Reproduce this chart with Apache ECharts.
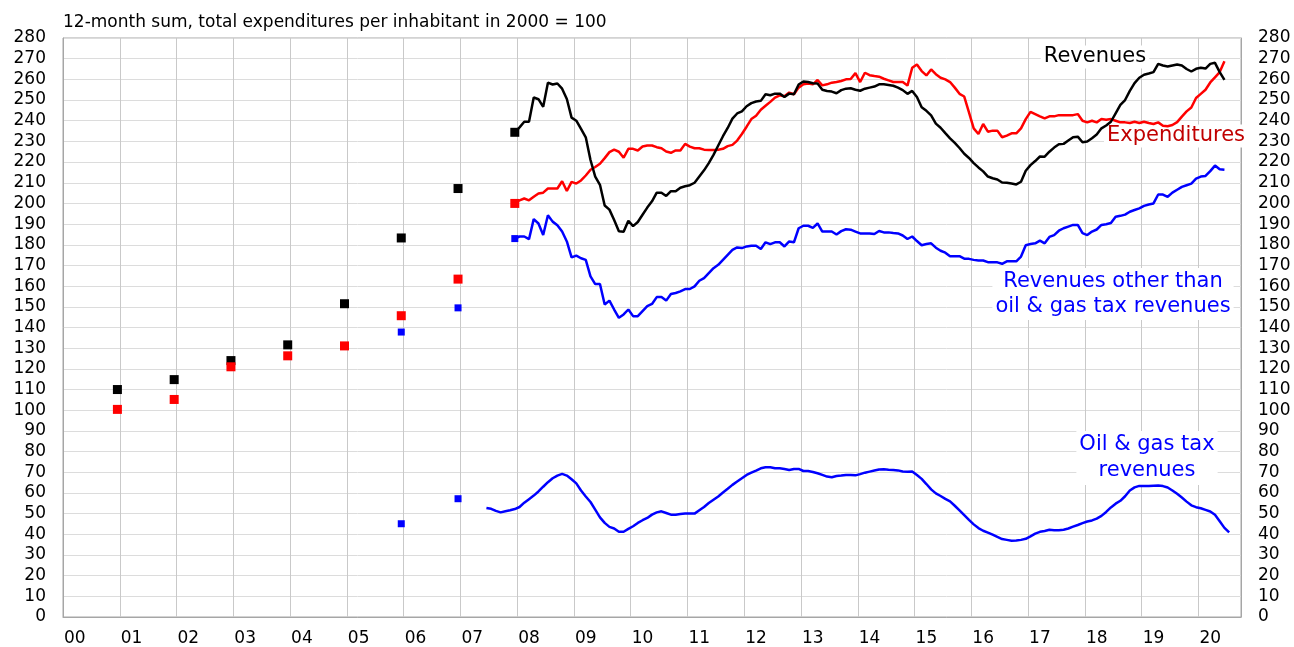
<!DOCTYPE html>
<html>
<head>
<meta charset="utf-8">
<script src="https://cdn.jsdelivr.net/npm/echarts@6/dist/echarts.min.js"></script>
<style>
  html, body { margin: 0; padding: 0; background: #fff; }
  #chart { width: 1294px; height: 647px; }
</style>
</head>
<body>
<div id="chart"></div>
<script>
const FONT = '"DejaVu Sans", "Liberation Sans", Arial, sans-serif';

// monthly categories, Jan 2000 .. Sep 2020
const firstYear = 2000;
const monthCount = 249;
const months = [];
for (let i = 0; i < monthCount; i++) {
  const y = firstYear + Math.floor(i / 12);
  const m = (i % 12) + 1;
  months.push(y + '-' + (m < 10 ? '0' + m : m));
}

// annual points (December of each year 2000..2007)
const annualMonths = ['2000-12', '2001-12', '2002-12', '2003-12', '2004-12', '2005-12', '2006-12', '2007-12'];
const revenuesAnnual = [110, 114.8, 124, 131.6, 151.5, 183.3, 207.2, 234.4];
const expendituresAnnual = [100.4, 105.2, 121, 126.3, 131.1, 145.7, 163.4, 200];
const otherAnnual = [null, null, null, null, null, 137.8, 149.5, 183];
const oilGasAnnual = [null, null, null, null, null, 45.1, 57.2, null];

// monthly series, first value is Dec 2007
const monthlyStart = '2007-12';
const revenues = [
  234.4,
  236.8, 239.5, 239.5, 251.2, 250.4, 246.7, 258.4, 257.5, 258, 255.5, 250.5, 241.5,
  240, 236, 232, 221, 213, 209, 199, 197, 192, 186.5, 186.3, 191.6,
  189, 191, 194.5, 198, 201, 205.2, 205.2, 203.6, 205.9, 205.9, 207.6, 208.3,
  208.8, 210, 213, 216, 219.5, 223.5, 228, 232.5, 236.5, 241, 243.5, 244.5,
  247, 248.5, 249.3, 249.6, 252.8, 252.3, 253.1, 253.1, 251.5, 253.1, 252.8, 257.5,
  259, 258.7, 258.1, 258, 255, 254.4, 254.1, 253.3, 254.8, 255.5, 255.7, 255,
  254.5, 255.5, 256, 256.5, 257.6, 257.6, 257.3, 256.9, 256, 254.8, 253, 254.4,
  251.5, 246.5, 244.8, 242.6, 238.6, 236.6, 234, 231.5, 229.3, 226.8, 224, 222,
  219.5, 217.4, 215.5, 213, 212.2, 211.6, 210.1, 210, 209.6, 209.2, 210.5, 215.8,
  218.5, 220.5, 222.7, 222.6, 225, 227, 228.6, 228.8, 230.4, 232, 232.3, 229.6,
  229.9, 231.5, 233.3, 236.3, 237.7, 239.5, 243.6, 247.7, 250, 254.4, 258.2, 260.8,
  262.2, 262.8, 263.5, 267.5, 266.7, 266.2, 266.7, 267.2, 266.7, 265, 263.8, 265.1,
  265.6, 265.2, 267.5, 268, 263.5, 259.7
];
const expenditures = [
  200,
  201.5, 202.4, 201.5, 203.2, 204.8, 205.2, 207.2, 207.2, 207.2, 210.7, 206, 210.4,
  209.6, 211.1, 213.5, 216.3, 217.6, 219.2, 221.9, 224.8, 226, 225, 222.1, 226.4,
  226.4, 225.6, 227.5, 228, 228, 227.2, 226.7, 225.1, 224.5, 225.6, 225.6, 228.8,
  227.5, 226.7, 226.7, 226, 225.8, 225.8, 226, 226.4, 227.7, 228.3, 230.4, 233.6,
  237.1, 240.8, 242.4, 245.3, 247.2, 249.1, 251.2, 252.3, 251.8, 253.6, 252.8, 256,
  257.6, 258, 257.6, 259.7, 257.1, 257.6, 258.4, 258.7, 259.2, 260, 260.2, 263,
  258.7, 263.2, 262, 261.6, 261.3, 260.3, 259.5, 258.7, 258.7, 258.7, 257, 265.6,
  267.2, 264, 261.9, 264.8, 262.5, 260.8, 260, 258.7, 256, 253, 251.7, 244,
  236.3, 233.6, 238.4, 234.7, 235.2, 235.2, 232, 232.8, 233.9, 233.9, 236.3, 240.8,
  244.3, 243.2, 242.1, 241.1, 242.1, 242.1, 242.7, 242.7, 242.7, 242.7, 243.2, 240,
  239.2, 240, 239.2, 240.8, 240.5, 240.8, 240, 239.2, 239.2, 238.9, 239.5, 238.9,
  239.5, 238.9, 238.4, 239.2, 237.6, 237.3, 237.9, 239.3, 242, 244.5, 246.4, 251,
  253, 255, 258.5, 261, 263.5, 268.8
];
const otherRevenues = [
  183,
  184, 184, 182.7, 192.4, 190.3, 184.7, 194.3, 191.2, 189.5, 186.4, 181.6, 173.9,
  174.8, 173.5, 172.7, 164.7, 161, 161, 151.1, 153, 148.7, 144.7, 146.3, 148.7,
  145.5, 145.5, 147.9, 150.3, 151.4, 154.7, 154.7, 153, 156.2, 156.7, 157.5, 158.6,
  158.6, 159.9, 162.6, 163.9, 166.3, 168.7, 170.3, 172.7, 175.1, 177.5, 178.7, 178.4,
  179.2, 179.5, 179.5, 178, 181.2, 180.3, 181.2, 181.2, 179.2, 181.6, 181.2, 188,
  189.2, 189.2, 188.2, 190.3, 186.4, 186.4, 186.4, 185, 186.6, 187.5, 187.3, 186.4,
  185.5, 185.5, 185.5, 185.2, 186.7, 186, 186, 185.7, 185.5, 184.5, 182.8, 184,
  181.8, 179.8, 180.4, 180.7, 178.6, 177.1, 176.2, 174.5, 174.5, 174.5, 173.3, 173.2,
  172.7, 172.4, 172.4, 171.6, 171.6, 171.5, 170.8, 172, 172, 172, 174.3, 179.8,
  180.4, 180.7, 182, 180.7, 183.8, 184.7, 186.8, 188, 188.8, 189.6, 189.6, 185.6,
  184.7, 186.4, 187.4, 189.6, 189.9, 190.5, 193.6, 194, 194.6, 196, 196.8, 197.6,
  198.8, 199.5, 200, 204.3, 204.3, 203.2, 205.2, 206.6, 208, 208.8, 209.6, 212,
  213, 213.3, 215.6, 218.3, 216.5, 216.3
];

// oil & gas tax revenues, first value is Jun 2007
const oilGasStart = '2007-06';
const oilGas = [
  52.7, 52.3, 51.3, 50.6, 51.1, 51.6, 52.2,
  53.2, 55.3, 57, 58.7, 60.7, 63, 65.2, 67.1, 68.4, 69.2, 68.4, 66.6,
  64.6, 61.2, 58.3, 55.6, 51.9, 48.2, 45.5, 43.6, 42.8, 41.2, 41.2, 42.6,
  43.9, 45.5, 46.8, 47.9, 49.5, 50.6, 51.1, 50.3, 49.5, 49.5, 49.8, 50,
  50, 50, 51.6, 53.2, 55.1, 56.7, 58.3, 60.2, 62, 63.9, 65.5, 67.1,
  68.7, 69.8, 70.8, 71.9, 72.4, 72.4, 71.9, 71.9, 71.6, 71.1, 71.6, 71.6,
  70.6, 70.6, 70.1, 69.5, 68.7, 67.9, 67.6, 68.2, 68.4, 68.7, 68.7, 68.5,
  69.1, 69.8, 70.3, 70.8, 71.3, 71.4, 71.2, 71.1, 70.9, 70.4, 70.3, 70.4,
  68.7, 66.8, 64.3, 61.7, 59.8, 58.5, 57.1, 55.9, 53.8, 51.6, 49.3, 47,
  44.8, 43, 41.7, 40.8, 39.8, 38.7, 37.7, 37.3, 36.9, 37, 37.3, 37.8,
  39, 40.3, 41.2, 41.6, 42.2, 42, 42, 42.2, 42.8, 43.7, 44.5, 45.4,
  46.2, 46.7, 47.6, 48.9, 50.8, 53, 54.8, 56.2, 58.4, 61.2, 62.7, 63.4,
  63.4, 63.4, 63.5, 63.6, 63.3, 62.6, 61.2, 59.6, 57.8, 55.8, 54, 53.1,
  52.6, 51.8, 51, 49.4, 46.3, 43.1, 40.9
];

// place a run of monthly values on the month categories
const onMonths = (start, values) => {
  const out = new Array(monthCount).fill(null);
  const s = months.indexOf(start);
  values.forEach((v, i) => { out[s + i] = v; });
  return out;
};
const annualPoints = values => annualMonths
  .map((m, i) => [m, values[i]])
  .filter(p => p[1] !== null);

const lineSeries = (name, color, start, values) => ({
  name,
  type: 'line',
  data: onMonths(start, values),
  showSymbol: false,
  symbol: 'none',
  connectNulls: false,
  lineStyle: { color, width: 2.5 },
  itemStyle: { color },
  z: 3,
});
const squareSeries = (name, color, size, values) => ({
  name,
  type: 'scatter',
  data: annualPoints(values),
  symbol: 'rect',
  symbolSize: size,
  itemStyle: { color, opacity: 1 },
  z: 4,
});

const yAxisBase = {
  type: 'value',
  min: 0,
  max: 280,
  interval: 10,
  axisLine: { show: true, lineStyle: { color: '#A6A6A6' } },
  axisTick: { show: false },
  axisLabel: { color: '#000', fontSize: 17, fontFamily: FONT, margin: 17 },
};

// annotation text boxes have a white fill: they hide the grid, not the lines
const text = (str, x, y, color, size, opts) => ({
  type: 'text',
  x,
  y,
  silent: true,
  z: 1,
  style: Object.assign({
    text: str,
    fill: color,
    fontSize: size,
    fontFamily: FONT,
    align: 'center',
    verticalAlign: 'middle',
    backgroundColor: '#fff',
    padding: [1, 3],
  }, opts || {}),
});

const chart = echarts.init(document.getElementById('chart'));
chart.setOption({
  animation: false,
  backgroundColor: '#fff',
  grid: {
    left: 63, right: 53, top: 38, bottom: 26,
    show: true, borderColor: '#A6A6A6', borderWidth: 1,
  },
  xAxis: {
    type: 'category',
    data: months,
    boundaryGap: true,
    axisLine: { lineStyle: { color: '#A6A6A6' } },
    axisTick: { show: false },
    axisLabel: {
      interval: i => i % 12 === 2,
      formatter: v => v.slice(2, 4),
      color: '#000',
      fontSize: 17,
      fontFamily: FONT,
      margin: 13,
    },
    splitLine: {
      show: true,
      interval: i => i % 12 === 0,
      lineStyle: { color: '#C9C9C9' },
    },
  },
  yAxis: [
    Object.assign({}, yAxisBase, {
      position: 'left',
      splitLine: { show: true, lineStyle: { color: '#DCDCDC' } },
    }),
    Object.assign({}, yAxisBase, {
      position: 'right',
      splitLine: { show: false },
    }),
  ],
  series: [
    lineSeries('Oil & gas tax revenues', '#0000FF', oilGasStart, oilGas),
    lineSeries('Revenues other than oil & gas tax revenues', '#0000FF', monthlyStart, otherRevenues),
    lineSeries('Expenditures', '#FF0000', monthlyStart, expenditures),
    lineSeries('Revenues', '#000000', monthlyStart, revenues),
    squareSeries('Revenues (annual)', '#000000', 9, revenuesAnnual),
    squareSeries('Expenditures (annual)', '#FF0000', 9, expendituresAnnual),
    squareSeries('Other revenues (annual)', '#0000FF', 7, otherAnnual),
    squareSeries('Oil & gas (annual)', '#0000FF', 7, oilGasAnnual),
  ],
  graphic: [
    text('12-month sum, total expenditures per inhabitant in 2000 = 100', 63, 23, '#000', 17,
      { align: 'left', backgroundColor: 'transparent', padding: 0 }),
    text('Revenues', 1095, 57, '#000', 21),
    text('Expenditures', 1176, 136, '#C00000', 21),
    text('Revenues other than\noil & gas tax revenues', 1113, 294, '#0000FF', 21, { lineHeight: 25 }),
    text('Oil & gas tax\nrevenues', 1147, 458, '#0000FF', 21, { lineHeight: 26 }),
  ],
});
</script>
</body>
</html>
